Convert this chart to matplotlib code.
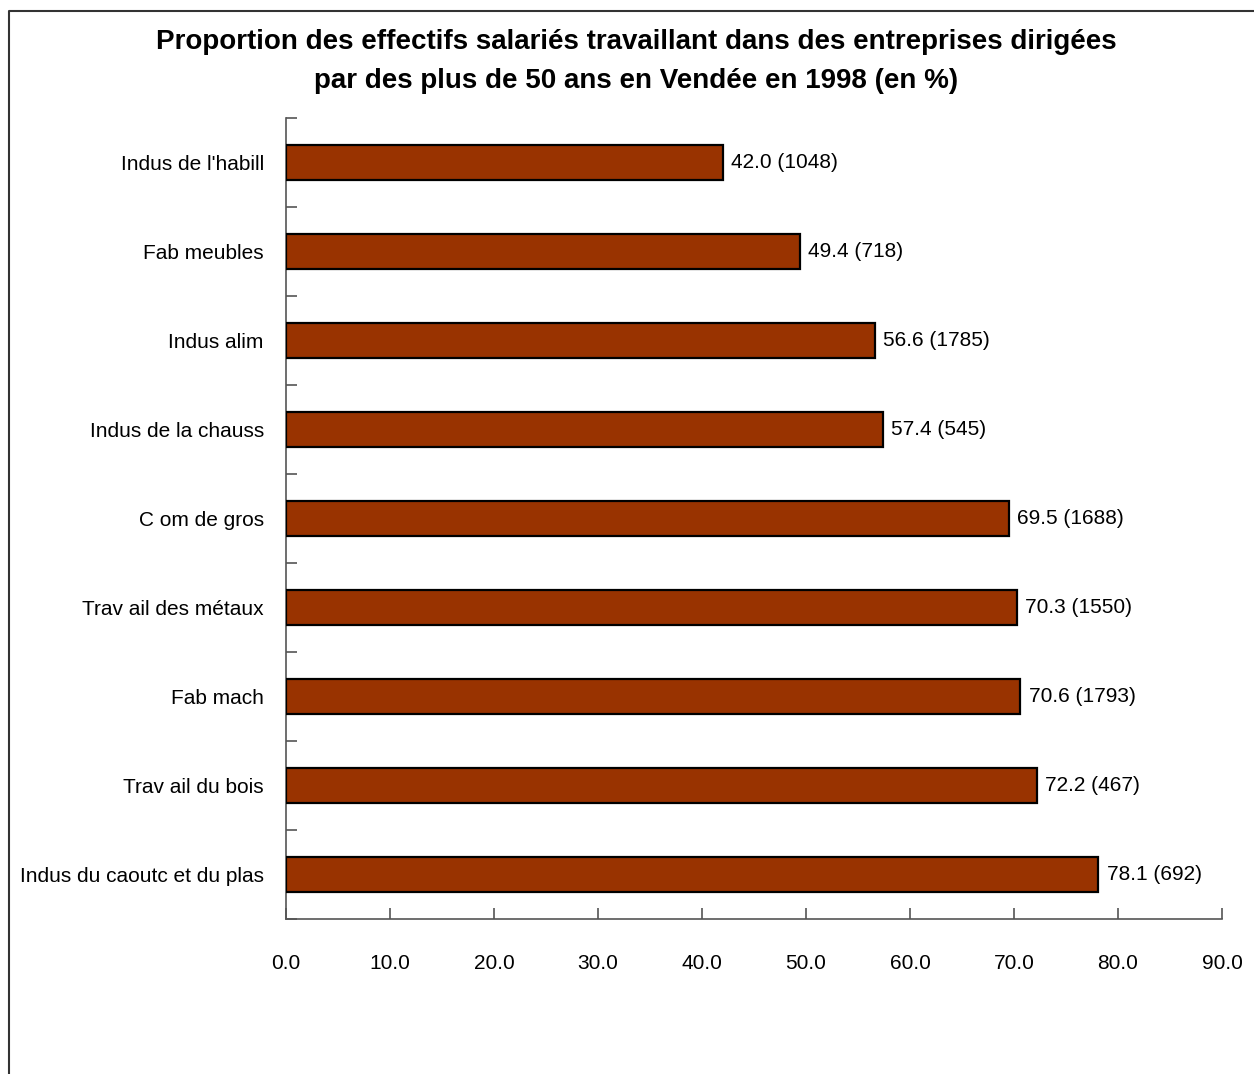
import numpy as np
import matplotlib
matplotlib.use("Agg")
import matplotlib.pyplot as plt
from matplotlib.lines import Line2D

plt.rcParams['font.family'] = ['Liberation Sans', 'DejaVu Sans']

categories = ["Indus de l'habill", "Fab meubles", "Indus alim", "Indus de la chauss",
              "C om de gros", "Trav ail des métaux", "Fab mach", "Trav ail du bois",
              "Indus du caoutc et du plas"]
values = [42.0, 49.4, 56.6, 57.4, 69.5, 70.3, 70.6, 72.2, 78.1]
counts = [1048, 718, 1785, 545, 1688, 1550, 1793, 467, 692]
xticks = [0, 10, 20, 30, 40, 50, 60, 70, 80, 90]

W, H = 1254, 1074
fig = plt.figure(figsize=(W / 100, H / 100), dpi=100)
ax = fig.add_axes([286 / W, 1 - 919 / H, (1222 - 286) / W, (919 - 118) / H])

y = np.arange(len(categories))
ax.barh(y, values, height=0.4, color="#993300", edgecolor="black", linewidth=1.6, zorder=3)
for yi, v, c in zip(y, values, counts):
    ax.text(v + 0.8, yi, f"{v:.1f} ({c})", va="center", ha="left", fontsize=15)

ax.set_xlim(0, 90)
ax.set_ylim(len(categories) - 0.5, -0.5)
ax.set_xticks(xticks)
ax.set_xticklabels([f"{t:.1f}" for t in xticks], fontsize=15)
ax.set_yticks(y)
ax.set_yticklabels(categories, fontsize=15)
ax.set_yticks(np.arange(-0.5, len(categories), 1), minor=True)
ax.tick_params(axis="y", which="major", length=0, pad=16)
ax.tick_params(axis="y", which="minor", length=8, direction="in", color="#555555", width=1.2)
ax.tick_params(axis="x", length=8, direction="in", color="#555555", width=1.2, pad=25)
for s in ("top", "right"):
    ax.spines[s].set_visible(False)
for s in ("left", "bottom"):
    ax.spines[s].set_color("#555555")
    ax.spines[s].set_linewidth(1.2)

fig.text(636 / W, 1 - 42 / H, "Proportion des effectifs salariés travaillant dans des entreprises dirigées",
         ha="center", va="center", fontsize=20, fontweight="bold")
fig.text(636 / W, 1 - 81 / H, "par des plus de 50 ans en Vendée en 1998 (en %)",
         ha="center", va="center", fontsize=20, fontweight="bold")

# outer frame (only left and top edges visible)
fig.add_artist(Line2D([9 / W, 9 / W, 1.0], [0.0, 1 - 11 / H, 1 - 11 / H],
                      transform=fig.transFigure, color="#333333", linewidth=1.5))

fig.savefig("out.png", dpi=100)
